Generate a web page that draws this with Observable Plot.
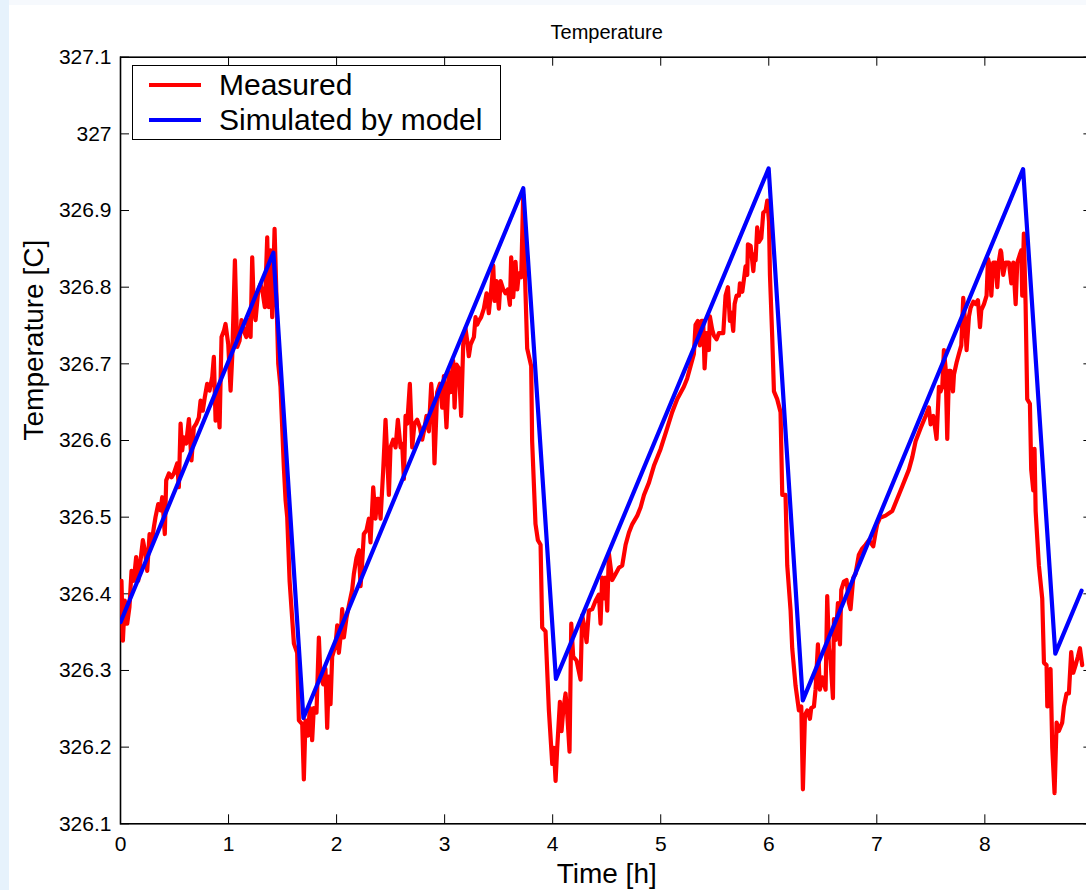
<!DOCTYPE html>
<html>
<head>
<meta charset="utf-8">
<script src="https://cdn.jsdelivr.net/npm/d3@7"></script>
<script src="https://cdn.jsdelivr.net/npm/@observablehq/plot@0.6"></script>
<style>
  html, body { margin: 0; padding: 0; background: #fff; overflow: hidden; }
  body { width: 1086px; height: 890px; position: relative; font-family: "Liberation Sans", Arial, Helvetica, sans-serif; }
  #topstrip { position: absolute; left: 0; top: 0; width: 1086px; height: 5px; background: #f6f9fd; }
  #leftstrip { position: absolute; left: 0; top: 0; width: 9px; height: 890px; background: #e6f2fc; }
  #chart { position: absolute; left: 0; top: 0; }
  #legend { position: absolute; left: 132px; top: 65px; width: 367px; height: 73px; border: 1.5px solid #000; background: #fff; }
  .item { position: absolute; left: 0; height: 30px; display: flex; align-items: center; }
  .swatch { position: absolute; left: 16px; width: 52px; height: 4px; }
  .label { position: absolute; left: 86px; font-size: 30px; line-height: 30px; white-space: nowrap; color: #000; }
</style>
</head>
<body>
<div id="topstrip"></div>
<div id="leftstrip"></div>
<div id="chart"></div>
<div id="legend"></div>
<script>
// ---- Data ----
const measuredTime = [
  0.009,0.022,0.040,0.062,0.083,0.102,0.123,0.145,0.164,0.185,0.207,0.225,0.247,0.269,0.287,0.309,0.324,0.349,0.370,0.386,
  0.410,0.423,0.448,0.472,0.494,0.525,0.540,0.556,0.571,0.586,0.608,0.633,0.657,0.679,0.701,0.725,0.741,0.762,0.781,0.802,
  0.824,0.849,0.864,0.880,0.895,0.917,0.935,0.957,0.972,0.997,1.019,1.034,1.059,1.080,1.102,1.120,1.142,1.164,1.182,1.204,
  1.219,1.235,1.250,1.275,1.296,1.318,1.336,1.358,1.373,1.389,1.404,1.426,1.441,1.460,1.481,1.512,1.528,1.543,1.565,1.605,
  1.635,1.651,1.682,1.697,1.712,1.734,1.753,1.774,1.789,1.814,1.836,1.851,1.876,1.897,1.913,1.928,1.944,1.959,1.990,2.006,
  2.021,2.036,2.052,2.067,2.092,2.114,2.144,2.160,2.184,2.206,2.222,2.237,2.252,2.277,2.299,2.314,2.339,2.360,2.376,2.391,
  2.407,2.431,2.453,2.468,2.484,2.499,2.524,2.546,2.567,2.592,2.607,2.623,2.638,2.654,2.678,2.700,2.721,2.746,2.771,2.792,
  2.808,2.832,2.854,2.876,2.894,2.906,2.931,2.956,2.977,2.993,3.017,3.039,3.055,3.079,3.092,3.110,3.132,3.153,3.172,3.193,
  3.209,3.224,3.240,3.271,3.286,3.301,3.317,3.338,3.363,3.388,3.409,3.431,3.450,3.462,3.480,3.502,3.518,3.542,3.564,3.585,
  3.604,3.616,3.635,3.656,3.672,3.687,3.709,3.727,3.740,3.764,3.801,3.810,3.841,3.863,3.888,3.903,3.934,3.965,3.996,4.011,
  4.027,4.042,4.067,4.082,4.098,4.119,4.135,4.156,4.172,4.190,4.221,4.258,4.273,4.295,4.314,4.335,4.366,4.397,4.428,4.443,
  4.458,4.474,4.489,4.505,4.520,4.551,4.582,4.613,4.644,4.675,4.706,4.737,4.783,4.814,4.845,4.891,4.937,4.999,5.060,5.106,
  5.153,5.214,5.245,5.276,5.307,5.322,5.344,5.362,5.378,5.393,5.406,5.424,5.446,5.455,5.476,5.492,5.517,5.538,5.579,5.600,
  5.622,5.640,5.653,5.671,5.684,5.702,5.724,5.733,5.755,5.770,5.785,5.801,5.807,5.832,5.857,5.869,5.878,5.893,5.909,5.931,
  5.949,5.971,5.986,6.002,6.011,6.032,6.048,6.078,6.109,6.125,6.155,6.171,6.202,6.217,6.248,6.279,6.301,6.316,6.335,6.356,
  6.381,6.393,6.418,6.433,6.455,6.473,6.495,6.526,6.541,6.557,6.572,6.594,6.603,6.619,6.640,6.659,6.671,6.695,6.720,6.742,
  6.757,6.782,6.803,6.834,6.865,6.896,6.927,6.967,6.989,7.004,7.029,7.081,7.143,7.189,7.235,7.297,7.328,7.359,7.405,7.452,
  7.482,7.498,7.523,7.535,7.553,7.575,7.590,7.606,7.621,7.637,7.652,7.668,7.683,7.705,7.714,7.739,7.760,7.782,7.800,7.813,
  7.831,7.853,7.868,7.893,7.914,7.936,7.955,7.967,7.992,8.016,8.029,8.047,8.060,8.078,8.100,8.115,8.131,8.146,8.152,8.170,
  8.192,8.223,8.245,8.263,8.285,8.300,8.325,8.337,8.346,8.361,8.377,8.392,8.417,8.429,8.448,8.460,8.470,8.500,8.531,8.547,
  8.571,8.578,8.593,8.608,8.624,8.645,8.664,8.685,8.716,8.732,8.756,8.778,8.799,8.818,8.840,8.861,8.880,8.901
];
const measuredTemp = [
  326.417,326.339,326.391,326.361,326.383,326.430,326.417,326.448,326.417,326.443,326.470,326.457,326.430,326.478,326.465,326.487,326.500,326.517,326.509,326.526,
  326.478,326.548,326.557,326.552,326.557,326.570,326.539,326.622,326.587,326.604,326.596,326.628,326.574,326.617,326.622,326.630,326.652,326.639,326.657,326.674,
  326.665,326.683,326.709,326.626,326.665,326.617,326.735,326.743,326.752,326.726,326.665,326.709,326.835,326.722,326.730,326.757,326.743,326.735,326.757,326.735,
  326.839,326.770,326.757,326.796,326.804,326.791,326.774,326.865,326.774,326.848,326.761,326.876,326.800,326.700,326.670,326.565,326.522,326.500,326.417,326.335,
  326.323,326.235,326.230,326.158,326.235,326.215,326.251,326.209,326.251,326.245,326.343,326.292,326.282,326.302,326.225,326.292,326.256,326.318,326.333,326.359,
  326.323,326.343,326.380,326.343,326.369,326.385,326.405,326.426,326.447,326.457,326.410,326.441,326.478,326.483,326.498,326.467,326.539,326.498,326.524,326.524,
  326.498,326.560,326.627,326.581,326.529,326.591,326.601,326.591,326.627,326.591,326.596,326.550,326.632,326.622,326.674,326.591,326.622,326.627,326.617,326.601,
  326.612,326.632,326.612,326.674,326.637,326.570,326.663,326.674,326.643,326.684,326.617,326.689,326.663,326.704,326.643,326.699,326.694,326.632,326.725,326.746,
  326.730,326.710,326.725,326.735,326.761,326.751,326.756,326.761,326.772,326.792,326.766,326.797,326.828,326.782,326.808,326.772,326.808,326.797,326.792,326.797,
  326.777,326.839,326.787,326.833,326.797,326.818,326.813,326.921,326.833,326.720,326.697,326.599,326.491,326.470,326.464,326.356,326.351,326.248,326.178,326.199,
  326.156,326.199,326.259,326.221,326.248,326.270,326.243,326.194,326.361,326.318,326.313,326.288,326.372,326.356,326.337,326.378,326.380,326.391,326.399,326.361,
  326.421,326.394,326.421,326.378,326.453,326.418,326.426,326.434,326.437,326.464,326.480,326.491,326.502,326.513,326.529,326.545,326.567,326.589,326.616,326.637,
  326.654,326.670,326.681,326.697,326.713,326.751,326.756,326.724,326.756,326.756,326.694,326.740,326.718,326.762,326.745,326.737,326.732,326.740,326.740,326.789,
  326.800,326.756,326.767,326.743,326.778,326.789,326.789,326.805,326.794,326.810,326.827,326.816,326.856,326.854,326.821,326.843,326.835,326.878,326.859,326.864,
  326.897,326.900,326.913,326.886,326.816,326.735,326.664,326.654,326.637,326.529,326.529,326.437,326.378,326.329,326.280,326.248,326.253,326.145,326.242,326.248,
  326.237,326.251,326.253,326.275,326.334,326.275,326.291,326.275,326.397,326.329,326.313,326.264,326.367,326.340,326.388,326.334,326.405,326.416,326.418,326.388,
  326.380,326.421,326.426,326.451,326.459,326.464,326.470,326.462,326.480,326.491,326.499,326.502,326.508,326.524,326.540,326.562,326.578,326.599,326.616,326.632,
  326.643,326.621,326.632,326.621,326.602,326.670,326.664,326.670,326.718,326.694,326.602,326.691,326.691,326.664,326.686,326.702,326.713,326.724,326.786,326.762,
  326.718,326.762,326.773,326.781,326.778,326.783,326.748,326.770,326.778,326.789,326.837,326.827,326.789,326.832,326.832,326.800,326.835,326.848,326.845,326.816,
  326.832,326.832,326.805,326.832,326.778,326.832,326.843,326.848,326.789,326.870,326.778,326.654,326.648,326.562,326.535,326.589,326.508,326.437,326.394,326.310,
  326.307,326.253,326.291,326.302,326.199,326.140,326.232,326.221,326.232,326.253,326.270,326.270,326.324,326.297,326.307,326.318,326.329,326.307
];
const simulatedTime = [0, 1.415, 1.693, 3.728, 4.030, 5.999, 6.315, 8.354, 8.652, 8.895];
const simulatedTemp = [326.363, 326.845, 326.238, 326.929, 326.289, 326.955, 326.261, 326.954, 326.322, 326.404];
const xTicks = [0, 1, 2, 3, 4, 5, 6, 7, 8, 9];
const xTickLabels = [0, 1, 2, 3, 4, 5, 6, 7, 8];
const yTicks = [326.1, 326.2, 326.3, 326.4, 326.5, 326.6, 326.7, 326.8, 326.9, 327, 327.1];
const seriesNames = ["Measured", "Simulated by model"];
const seriesColors = ["#ff0000", "#0000ff"];

const measured = measuredTime.map((t, i) => ({t, v: measuredTemp[i]}));
const simulated = simulatedTime.map((t, i) => ({t, v: simulatedTemp[i]}));

const W = 1086, H = 890;
const mTop = 56.7, mBottom = 66.7, mLeft = 120, mRight = -6.4;
const frameH = H - mTop - mBottom;
const frameW = W - mLeft - mRight;
const tick = 9;

const fmtY = d => (Math.round(d * 10) / 10).toString();

const chart = Plot.plot({
  width: W,
  height: H,
  marginTop: mTop,
  marginBottom: mBottom,
  marginLeft: mLeft,
  marginRight: mRight,
  style: {fontFamily: '"Liberation Sans", Arial, Helvetica, sans-serif', background: "transparent", color: "#000", overflow: "visible"},
  x: {domain: [0, 9], axis: null},
  y: {domain: [326.1, 327.1], axis: null},
  marks: [
    Plot.frame({stroke: "#000", strokeWidth: 1.6}),
    // inward ticks: bottom & top
    Plot.ruleX(xTicks, {x: d => d, stroke: "#000", strokeWidth: 1, insetTop: frameH - tick}),
    Plot.ruleX(xTicks, {x: d => d, stroke: "#000", strokeWidth: 1, insetBottom: frameH - tick}),
    // inward ticks: left & right
    Plot.ruleY(yTicks, {y: d => d, stroke: "#000", strokeWidth: 1, insetRight: frameW - tick}),
    Plot.ruleY(yTicks, {y: d => d, stroke: "#000", strokeWidth: 1, insetLeft: frameW - tick}),
    Plot.axisX({ticks: xTickLabels, tickSize: 0, tickPadding: 12, fontSize: 21, tickFormat: d => String(d), label: null}),
    Plot.axisY({ticks: yTicks, tickSize: 0, tickPadding: 9, fontSize: 21, tickFormat: fmtY, label: null}),
    Plot.line(measured, {x: "t", y: "v", stroke: seriesColors[0], strokeWidth: 4.2, strokeLinejoin: "round", clip: true}),
    Plot.line(simulated, {x: "t", y: "v", stroke: seriesColors[1], strokeWidth: 4.2, strokeLinejoin: "round", clip: true}),
    Plot.text(["Temperature"], {frameAnchor: "top", text: d => d, dy: -25, fontSize: 20, lineAnchor: "middle"}),
    Plot.text(["Time [h]"], {frameAnchor: "bottom", text: d => d, dy: 50, fontSize: 28, lineAnchor: "middle"}),
    Plot.text(["Temperature [C]"], {frameAnchor: "left", text: d => d, dx: -86, rotate: -90, fontSize: 28, lineAnchor: "middle"})
  ]
});
document.getElementById("chart").appendChild(chart);

// legend overlay (inside the axes, top-left)
const legend = document.getElementById("legend");
seriesNames.forEach((name, i) => {
  const item = document.createElement("div");
  item.className = "item";
  item.style.top = (i === 0 ? 4 : 39) + "px";
  const sw = document.createElement("div");
  sw.className = "swatch";
  sw.style.background = seriesColors[i];
  sw.style.top = "13px";
  const lb = document.createElement("div");
  lb.className = "label";
  lb.textContent = name;
  lb.style.top = "0px";
  item.appendChild(sw);
  item.appendChild(lb);
  legend.appendChild(item);
});
</script>
</body>
</html>
